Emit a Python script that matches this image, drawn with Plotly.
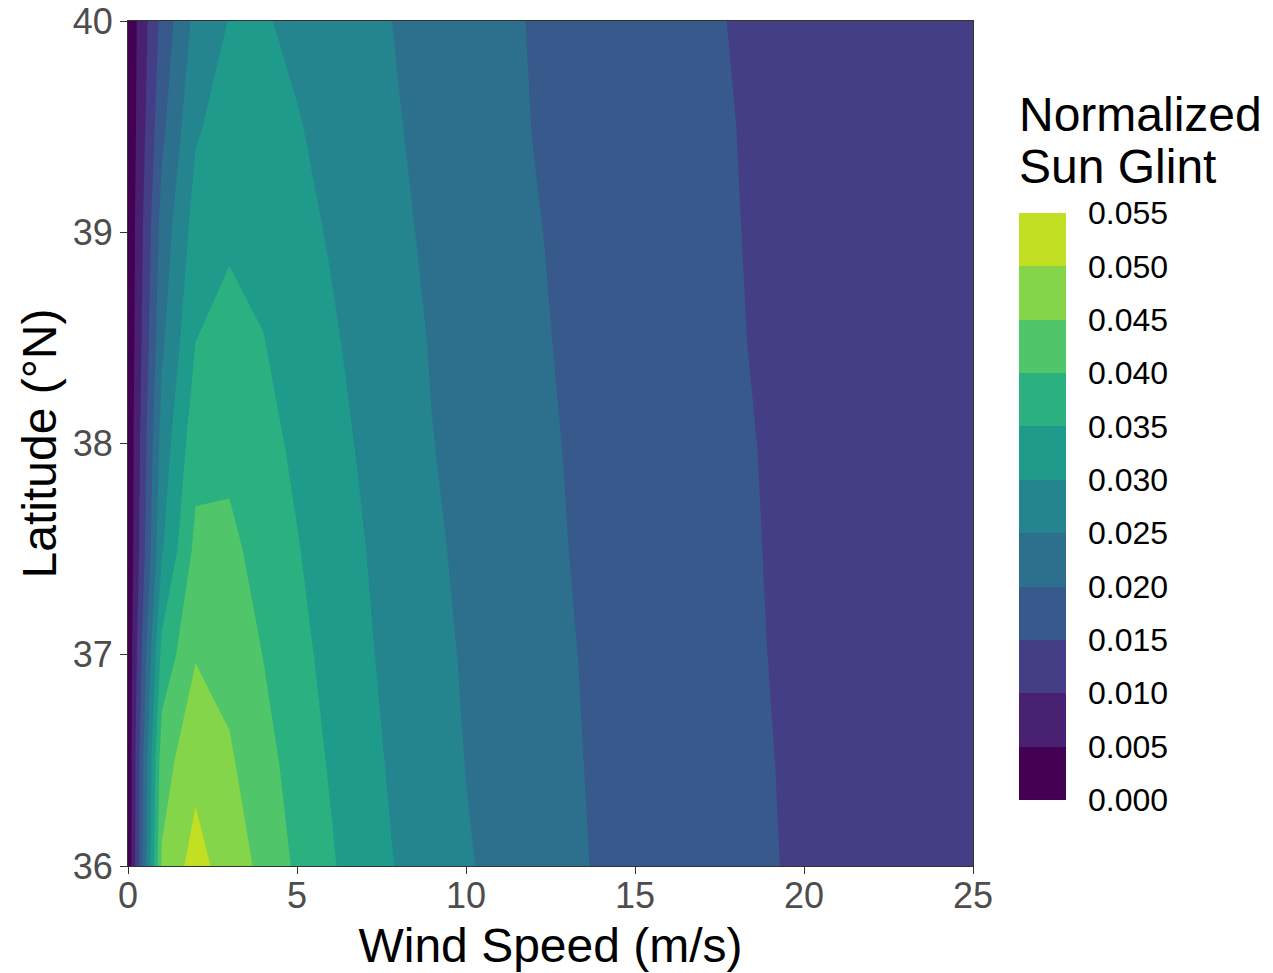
import plotly.graph_objects as go

# ---------------- data ----------------
WIND_SPEED = [0, 1, 2, 3, 4, 5, 6, 7, 8, 9, 10, 12, 14, 16, 18, 20, 22, 25]
LATITUDE = [36.0, 36.5, 37.0, 37.5, 38.0, 38.5, 39.0, 39.5, 40.0]

# normalized sun glint, one row per latitude, one column per wind speed
GLINT_36_0 = [0.0005, 0.0456, 0.0522, 0.0472, 0.0440, 0.0391, 0.0356, 0.0320, 0.0297, 0.0276, 0.0254, 0.0224, 0.0195, 0.0176, 0.0159, 0.0145, 0.0135, 0.0124]
GLINT_36_5 = [0.0005, 0.0430, 0.0483, 0.0456, 0.0419, 0.0378, 0.0345, 0.0313, 0.0291, 0.0270, 0.0249, 0.0220, 0.0193, 0.0174, 0.0158, 0.0144, 0.0134, 0.0123]
GLINT_37_0 = [0.0005, 0.0365, 0.0447, 0.0435, 0.0399, 0.0365, 0.0335, 0.0307, 0.0284, 0.0264, 0.0245, 0.0217, 0.0191, 0.0173, 0.0156, 0.0143, 0.0133, 0.0122]
GLINT_37_5 = [0.0005, 0.0295, 0.0413, 0.0411, 0.0383, 0.0353, 0.0325, 0.0301, 0.0278, 0.0257, 0.0241, 0.0213, 0.0188, 0.0171, 0.0155, 0.0142, 0.0132, 0.0121]
GLINT_38_0 = [0.0005, 0.0270, 0.0381, 0.0388, 0.0367, 0.0340, 0.0316, 0.0293, 0.0271, 0.0251, 0.0238, 0.0210, 0.0186, 0.0169, 0.0154, 0.0141, 0.0131, 0.0120]
GLINT_38_5 = [0.0005, 0.0240, 0.0349, 0.0365, 0.0351, 0.0328, 0.0306, 0.0285, 0.0265, 0.0247, 0.0234, 0.0206, 0.0184, 0.0167, 0.0152, 0.0139, 0.0130, 0.0119]
GLINT_39_0 = [0.0005, 0.0220, 0.0322, 0.0343, 0.0335, 0.0315, 0.0296, 0.0278, 0.0258, 0.0242, 0.0230, 0.0203, 0.0182, 0.0166, 0.0151, 0.0138, 0.0129, 0.0118]
GLINT_39_5 = [0.0007, 0.0188, 0.0294, 0.0323, 0.0320, 0.0303, 0.0287, 0.0270, 0.0252, 0.0238, 0.0226, 0.0199, 0.0179, 0.0164, 0.0150, 0.0137, 0.0128, 0.0117]
GLINT_40_0 = [0.0010, 0.0165, 0.0265, 0.0302, 0.0304, 0.0290, 0.0278, 0.0263, 0.0247, 0.0234, 0.0222, 0.0197, 0.0177, 0.0162, 0.0148, 0.0136, 0.0127, 0.0116]
GLINT = [GLINT_36_0, GLINT_36_5, GLINT_37_0, GLINT_37_5, GLINT_38_0,
         GLINT_38_5, GLINT_39_0, GLINT_39_5, GLINT_40_0]

LEVELS = [0.000, 0.005, 0.010, 0.015, 0.020, 0.025, 0.030,
          0.035, 0.040, 0.045, 0.050, 0.055]
LEVEL_LABELS = ["0.000", "0.005", "0.010", "0.015", "0.020", "0.025",
                "0.030", "0.035", "0.040", "0.045", "0.050", "0.055"]
X_TICKS = [0, 5, 10, 15, 20, 25]
Y_TICKS = [36, 37, 38, 39, 40]

BAND_COLORS = ["#440154", "#482173", "#433E85", "#38598C", "#2D708E", "#25858E",
               "#1E9B8A", "#2BB07F", "#51C56A", "#85D54A", "#C2DF23"]

# ---------------- figure ----------------
W, H = 1273, 973
ML, MR, MT, MB = 128, 0, 21, 107
PW = W - ML - MR
PH = H - MT - MB
FONT = "Liberation Sans, Arial, Helvetica, sans-serif"

n_bands = len(BAND_COLORS)
step = LEVELS[1] - LEVELS[0]

contour_scale = [[i / (n_bands - 1), c] for i, c in enumerate(BAND_COLORS)]
legend_scale = []
for i, c in enumerate(BAND_COLORS):
    legend_scale.append([i / n_bands, c])
    legend_scale.append([(i + 1) / n_bands, c])

fig = go.Figure()
fig.add_trace(go.Contour(
    x=WIND_SPEED, y=LATITUDE, z=GLINT,
    colorscale=contour_scale,
    autocontour=False,
    contours=dict(start=LEVELS[1], end=LEVELS[-2], size=step,
                  coloring="fill", showlines=False),
    line=dict(width=0, smoothing=0),
    showscale=False, hoverinfo="skip",
))

# discrete legend (colour key) drawn as a heatmap on its own axes
mids = [(LEVELS[i] + LEVELS[i + 1]) / 2 for i in range(len(LEVELS) - 1)]
fig.add_trace(go.Heatmap(
    x=[0, 1], y=LEVELS, z=[[m] for m in mids],
    zmin=LEVELS[0], zmax=LEVELS[-1], colorscale=legend_scale,
    showscale=False, hoverinfo="skip", xaxis="x2", yaxis="y2",
))

axis_common = dict(
    ticks="outside", ticklen=7, tickwidth=1.2, tickcolor="#333333",
    tickfont=dict(size=36, color="#4D4D4D", family=FONT),
    showline=True, linecolor="#333333", linewidth=1.2, mirror=True,
    showgrid=False, zeroline=False,
)

fig.update_layout(
    width=W, height=H,
    margin=dict(l=ML, r=MR, t=MT, b=MB, autoexpand=False),
    paper_bgcolor="white", plot_bgcolor="white",
    font=dict(family=FONT, color="black"),
    xaxis=dict(domain=[0, 845 / PW], range=[0, 25], tickvals=X_TICKS,
               ticklabelstandoff=-9,
               title=dict(text="Wind Speed (m/s)", font=dict(size=48, color="black"),
                          standoff=13),
               **axis_common),
    yaxis=dict(domain=[0, 1], range=[36, 40], tickvals=Y_TICKS,
               title=dict(text="Latitude (°N)", font=dict(size=48, color="black"),
                          standoff=0),
               **axis_common),
    xaxis2=dict(domain=[(1019 - ML) / PW, (1066 - ML) / PW], range=[0, 1],
                visible=False, anchor="y2", fixedrange=True),
    yaxis2=dict(domain=[(866 - 800) / PH, (866 - 213) / PH], range=[LEVELS[0], LEVELS[-1]],
                anchor="x2", side="right", tickvals=LEVELS, ticktext=LEVEL_LABELS,
                ticks="", tickfont=dict(size=32, color="black", family=FONT),
                showline=False, showgrid=False, zeroline=False, fixedrange=True,
                ticklabelstandoff=21),
    showlegend=False,
)

for text, py in [("Normalized", 115), ("Sun Glint", 166)]:
    fig.add_annotation(text=text, xref="paper", yref="paper",
                       x=(1017 - ML) / PW, y=(866 - py) / PH,
                       xanchor="left", yanchor="middle", showarrow=False,
                       font=dict(size=48, color="black", family=FONT))

fig.write_html("out.html")
